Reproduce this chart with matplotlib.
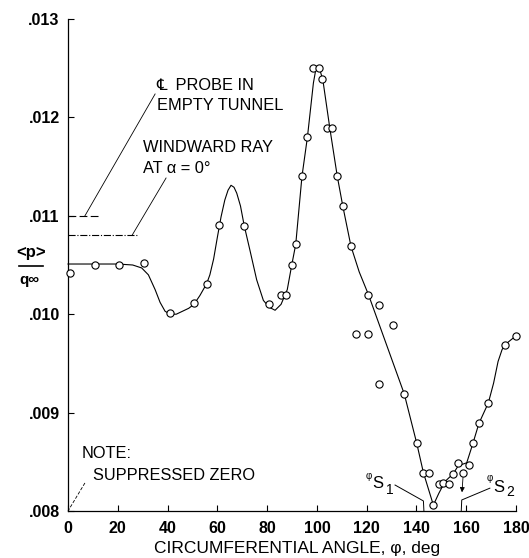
import matplotlib
matplotlib.use("Agg")
import matplotlib.pyplot as plt
from matplotlib.lines import Line2D

# ---------------- data ----------------
# measured points (open circles)
phi_pts = [1, 11, 20.5, 30.7, 41, 50.6, 55.7, 60.7, 70.8, 80.9, 85.6, 87.6,
           89.9, 91.5, 94, 96.2, 98.6, 101, 102.2, 104.2, 106.2, 108.2, 110.4,
           113.7, 115.6, 120.4, 120.7, 125.1, 125.1, 130.7, 135, 140.1, 142.8,
           145.2, 146.8, 149, 150.5, 153, 154.5, 156.8, 158.8, 161.2, 162.6,
           165.1, 168.9, 175.6, 180]
p_pts = [.01042, .01050, .01050, .01052, .01001, .01011, .01031, .01091,
         .01090, .01010, .01020, .01020, .01050, .01071, .01140, .01180,
         .01250, .01250, .01239, .01189, .01189, .01140, .01110, .01069,
         .00980, .00980, .01020, .01009, .00929, .00989, .00919, .00869,
         .00839, .00839, .00806, .00827, .00828, .00827, .00838, .00849,
         .00839, .00847, .00869, .00889, .00910, .00969, .00978]

# faired curve
phi_curve = [0, 10, 20, 26, 29.6, 32.3, 35, 37, 39, 41, 43.5, 46, 48.5, 50.6,
             53, 55.7, 57, 58.5, 60, 61.5, 63, 64.3, 65.5, 66.7, 67.8, 69.3,
             70.8, 73.1, 75.8, 78.5, 80.9, 83.2, 85.6, 88.1, 89.9, 91.5, 94,
             96.2, 98.6, 99.8, 101, 102.4, 105.2, 108.2, 110.4, 113.7, 117,
             120.7, 135.1, 140.1, 142.8, 146.8, 149, 151.5, 154.8, 156.8,
             160.2, 162.6, 165.1, 168.9, 171, 172.8, 174.4, 175.6, 178, 180]
p_curve = [.01051, .01051, .01051, .01050, .01047, .01040, .01025, .01012,
           .01003, .01000, .01000, .01003, .01006, .01010, .01019, .01031,
           .01040, .01056, .01078, .01099, .01116, .01126, .01131, .01129,
           .01123, .01110, .01090, .01065, .01035, .01014, .01007, .01004,
           .01010, .01025, .01050, .01071, .01140, .01180, .01235, .01252,
           .01250, .01238, .01189, .01140, .01110, .01069, .01043, .01020,
           .00919, .00869, .00839, .00806, .00818, .00830, .00838, .00846,
           .00849, .00868, .00889, .00910, .00930, .00952, .00964, .00969,
           .00974, .00978]

cl_probe_level = .0110      # CL probe in empty tunnel
windward_level = .0108      # windward ray at alpha = 0
phi_s1 = 143
phi_s2 = 158

xticks = [0, 20, 40, 60, 80, 100, 120, 140, 160, 180]
yticks = [.008, .009, .010, .011, .012, .013]
ytick_labels = ['.008', '.009', '.010', '.011', '.012', '.013']

# ---------------- figure ----------------
W, H = 529, 558
fig = plt.figure(figsize=(W / 100, H / 100), dpi=100)
ax = fig.add_axes([68 / W, 1 - 511 / H, 448 / W, 492 / H])
ax.set_xlim(0, 180)
ax.set_ylim(.008, .013)

FAM = ['Liberation Sans', 'DejaVu Sans']

for s in ['top', 'right']:
    ax.spines[s].set_visible(False)
for s in ['left', 'bottom']:
    ax.spines[s].set_linewidth(0.9)

ax.set_xticks(xticks)
ax.set_xticklabels([str(v) for v in xticks])
ax.set_yticks(yticks)
ax.set_yticklabels(ytick_labels)
ax.tick_params(axis='both', direction='in', length=4, width=0.8)
ax.tick_params(axis='x', pad=7)
ax.tick_params(axis='y', pad=6)
for lab in ax.get_xticklabels() + ax.get_yticklabels():
    lab.set_fontfamily(FAM)
    lab.set_fontsize(11.5)
    lab.set_fontweight('bold')

# curve and points
ax.plot(phi_curve, p_curve, color='black', lw=0.8, zorder=2, clip_on=False)
ax.plot(phi_pts, p_pts, 'o', ms=5.2, mfc='white', mec='black', mew=0.8,
        zorder=3, clip_on=False)

# reference levels
ax.plot([0, 12.6], [cl_probe_level, cl_probe_level], color='black', lw=0.8,
        dashes=(7, 3), clip_on=False)
ax.plot([0, 27.7], [windward_level, windward_level], color='black', lw=0.8,
        linestyle='-.', clip_on=False)

# leader lines for reference levels
ax.plot([35.0, 6.8], [.012238, cl_probe_level], color='black', lw=0.6)
ax.plot([39.4, 25.7], [.011384, windward_level], color='black', lw=0.6)
ax.plot([6.8, 0], [.008285, .008], color='black', lw=0.6, dashes=(4, 2),
        clip_on=False)

tk = dict(fontfamily=FAM, fontsize=11.8, va='baseline', ha='left')
ax.text(35.6, .012278, '\u2104  PROBE IN', **tk)
ax.text(35.6, .012075, 'EMPTY TUNNEL', **tk)
ax.text(30.1, .011648, 'WINDWARD RAY', **tk)
ax.text(30.1, .011435, 'AT \u03b1 = 0\u00b0', **tk)
ax.text(5.6, .008539, 'NOTE:', **tk)
ax.text(10.0, .008315, 'SUPPRESSED ZERO', **tk)

# separation angle markers
ax.plot([phi_s1 - 11.6, phi_s1 - 0.2, phi_s1], [.008264, .008102, .008],
        color='black', lw=0.7, clip_on=False)
ax.plot([phi_s2 + 11.5, phi_s2 + 0.2, phi_s2], [.008232, .008112, .008],
        color='black', lw=0.7, clip_on=False)
ax.text(phi_s1 - 23.4, .00833, '\u03c6', fontfamily=FAM, fontsize=7,
        va='baseline', ha='left')
ax.text(phi_s1 - 20.6, .008234, 'S', fontfamily=FAM, fontsize=12,
        va='baseline', ha='left')
ax.text(phi_s1 - 15.2, .008170, '1', fontfamily=FAM, fontsize=10,
        va='baseline', ha='left')
ax.text(phi_s2 + 10.2, .00830, '\u03c6', fontfamily=FAM, fontsize=7,
        va='baseline', ha='left')
ax.text(phi_s2 + 12.9, .008193, 'S', fontfamily=FAM, fontsize=12,
        va='baseline', ha='left')
ax.text(phi_s2 + 18.2, .008150, '2', fontfamily=FAM, fontsize=10,
        va='baseline', ha='left')

# small arrow under the point near phi_s2
ax.annotate('', xy=(158.3, .00819), xytext=(158.7, .00834),
            arrowprops=dict(arrowstyle='-|>', lw=0.6, mutation_scale=7,
                            color='black', shrinkA=0, shrinkB=0))

# axis labels
fig.text(297 / W, 1 - 553 / H, 'CIRCUMFERENTIAL ANGLE, \u03c6, deg',
         fontfamily=FAM, fontsize=12.5, ha='center', va='baseline')
fig.text(31 / W, 1 - 252 / H, '<p>', fontfamily=FAM, fontsize=12,
         fontweight='bold', ha='center', va='center')
fig.add_artist(Line2D([19 / W, 43 / W], [1 - 266 / H, 1 - 266 / H],
                      color='black', lw=1.2, transform=fig.transFigure))
fig.text(29 / W, 1 - 280 / H, 'q\u221e', fontfamily=FAM, fontsize=11,
         fontweight='bold', ha='center', va='center')

fig.savefig('out.png', dpi=100)
